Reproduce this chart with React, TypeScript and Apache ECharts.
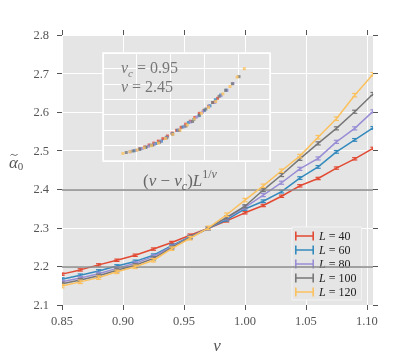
import React, { useEffect, useRef } from "react";
import * as echarts from "echarts";

const vValues = [0.85, 0.865, 0.88, 0.895, 0.91, 0.925, 0.94, 0.955, 0.97, 0.985, 1.0, 1.015, 1.03, 1.045, 1.06, 1.075, 1.09, 1.105];
const sizes = [40, 60, 80, 100, 120];
const alphaL40 = [2.180, 2.191, 2.204, 2.216, 2.229, 2.245, 2.262, 2.281, 2.299, 2.318, 2.339, 2.358, 2.382, 2.409, 2.428, 2.455, 2.479, 2.506];
const alphaL60 = [2.167, 2.177, 2.188, 2.201, 2.213, 2.229, 2.254, 2.277, 2.299, 2.321, 2.349, 2.369, 2.394, 2.429, 2.458, 2.497, 2.528, 2.559];
const alphaL80 = [2.160, 2.170, 2.181, 2.195, 2.208, 2.226, 2.251, 2.276, 2.299, 2.325, 2.353, 2.385, 2.417, 2.453, 2.480, 2.523, 2.558, 2.602];
const alphaL100 = [2.155, 2.165, 2.176, 2.190, 2.203, 2.221, 2.249, 2.275, 2.299, 2.327, 2.356, 2.398, 2.437, 2.479, 2.519, 2.558, 2.601, 2.647];
const alphaL120 = [2.149, 2.160, 2.171, 2.186, 2.199, 2.216, 2.246, 2.273, 2.300, 2.334, 2.372, 2.409, 2.448, 2.486, 2.535, 2.583, 2.644, 2.698];
const errorBars = [0.003, 0.0035, 0.004, 0.004, 0.0045];
const refLines = [2.4, 2.2];
const xTicks = [0.85, 0.9, 0.95, 1.0, 1.05, 1.1];
const vc = 0.95;
const nu = 2.45;

const colors = ["#E24A33", "#348ABD", "#988ED5", "#777777", "#FBC15E"];
const FONT = "'Liberation Serif', 'DejaVu Serif', serif";

export default function App() {
  const ref = useRef<HTMLDivElement>(null);
  useEffect(() => {
    const chart = echarts.init(ref.current!, null, { renderer: "svg" });
    const allAlpha = [alphaL40, alphaL60, alphaL80, alphaL100, alphaL120];
    const names = sizes.map((L) => `L = ${L}`);

    const series: any[] = [];
    series.push({
      type: "line",
      xAxisIndex: 0,
      yAxisIndex: 0,
      data: [],
      z: 1,
      silent: true,
      markLine: {
        symbol: "none",
        silent: true,
        label: { show: false },
        lineStyle: { color: "#888888", width: 1.6, type: "solid" },
        data: refLines.map((y) => ({ yAxis: y })),
      },
    });
    allAlpha.forEach((arr, k) => {
      series.push({
        name: names[k],
        type: "line",
        xAxisIndex: 0,
        yAxisIndex: 0,
        data: vValues.map((v, i) => [v, arr[i]]),
        symbol: "none",
        color: colors[k],
        lineStyle: { width: 1.5, color: colors[k] },
        z: 2 + k,
        clip: true,
      });
      series.push({
        name: names[k],
        type: "custom",
        xAxisIndex: 0,
        yAxisIndex: 0,
        color: colors[k],
        z: 2 + k,
        clip: true,
        data: vValues.map((v, i) => [v, arr[i], errorBars[k]]),
        renderItem: (params: any, api: any) => {
          const x = api.value(0);
          const y = api.value(1);
          const e = api.value(2);
          const t = api.coord([x, y + e]);
          const b = api.coord([x, y - e]);
          const hw = 2.6;
          const st = { stroke: colors[k], lineWidth: 1.2 };
          return {
            type: "group",
            children: [
              { type: "line", shape: { x1: t[0], y1: t[1], x2: b[0], y2: b[1] }, style: st },
              { type: "line", shape: { x1: t[0] - hw, y1: t[1], x2: t[0] + hw, y2: t[1] }, style: st },
              { type: "line", shape: { x1: b[0] - hw, y1: b[1], x2: b[0] + hw, y2: b[1] }, style: st },
            ],
          };
        },
      });
    });
    allAlpha.forEach((arr, k) => {
      const scale = Math.pow(sizes[k], 1 / nu);
      series.push({
        name: "collapse" + sizes[k],
        type: "scatter",
        xAxisIndex: 2,
        yAxisIndex: 2,
        symbol: "rect",
        symbolSize: 3,
        z: 5 + k * 0.1,
        itemStyle: { color: colors[k] },
        data: vValues.map((v, i) => [(v - vc) * scale, arr[i]]),
      });
    });

    const tickStyle = { color: "#555555", width: 1 };
    const labelStyle = { color: "#555555", fontFamily: FONT, fontSize: 12.5 };
    const inset = "#777777";
    const mid = "#666666";

    chart.setOption({
      animation: false,
      grid: [
        { left: 62, top: 35, width: 311, height: 270, show: true, backgroundColor: "#E5E5E5", borderWidth: 0, z: 0 },
        { left: 103, top: 53, width: 167, height: 108, show: true, backgroundColor: "#E5E5E5", borderColor: "#ffffff", borderWidth: 1.5, z: 3 },
      ],
      xAxis: [
        {
          gridIndex: 0, type: "value", position: "bottom", min: 0.85, max: 1.105, interval: 0.05,
          axisLine: { show: false },
          axisTick: { show: true, length: 5, lineStyle: tickStyle, customValues: xTicks },
          axisLabel: { ...labelStyle, margin: 9, customValues: xTicks, formatter: (v: number) => v.toFixed(2) },
          splitLine: { show: true, lineStyle: { color: "#ffffff", width: 1 } },
        },
        {
          gridIndex: 0, type: "value", position: "top", min: 0.85, max: 1.105, interval: 0.05,
          axisLine: { show: false },
          axisTick: { show: true, length: 5, lineStyle: tickStyle, customValues: xTicks },
          axisLabel: { show: false },
          splitLine: { show: false },
        },
        {
          gridIndex: 1, type: "value", min: -1, max: 1.475, interval: 0.5, z: 4,
          axisLine: { show: false }, axisTick: { show: false }, axisLabel: { show: false },
          splitLine: { show: true, lineStyle: { color: "#ffffff", width: 1 } },
        },
      ],
      yAxis: [
        {
          gridIndex: 0, type: "value", position: "left", min: 2.1, max: 2.8, interval: 0.1,
          axisLine: { show: false },
          axisTick: { show: true, length: 5, lineStyle: tickStyle },
          axisLabel: { ...labelStyle, margin: 13, formatter: (v: number) => v.toFixed(1) },
          splitLine: { show: true, lineStyle: { color: "#ffffff", width: 1 } },
        },
        {
          gridIndex: 0, type: "value", position: "right", min: 2.1, max: 2.8, interval: 0.1,
          axisLine: { show: false },
          axisTick: { show: true, length: 5, lineStyle: tickStyle },
          axisLabel: { show: false },
          splitLine: { show: false },
        },
        {
          gridIndex: 1, type: "value", min: 2.1, max: 2.8, interval: 0.1, z: 4,
          axisLine: { show: false }, axisTick: { show: false }, axisLabel: { show: false },
          splitLine: { show: true, lineStyle: { color: "#ffffff", width: 1 } },
        },
      ],
      legend: {
        orient: "vertical",
        left: 292,
        top: 227,
        itemWidth: 19,
        itemHeight: 9,
        itemGap: 2,
        padding: [3, 5, 2, 3],
        backgroundColor: "#E5E5E5",
        borderColor: "#f4f4f4",
        borderWidth: 1,
        icon: "path://M0,0h1.6v9h-1.6zM17.4,0h1.6v9h-1.6zM0,3.7h19v1.6h-19z",
        data: names,
        formatter: (n: string) => `{i|L}{n| = ${n.split("= ")[1]}}`,
        textStyle: {
          fontFamily: FONT,
          fontSize: 12,
          color: "#222222",
          lineHeight: 12,
          rich: {
            i: { fontFamily: FONT, fontSize: 12, fontStyle: "italic", color: "#222222", lineHeight: 12 },
            n: { fontFamily: FONT, fontSize: 12, color: "#222222", lineHeight: 12 },
          },
        },
      },
      graphic: [
        {
          type: "text", x: 13.5, y: 162, z: 10,
          style: { text: "α", fontFamily: FONT, fontSize: 17, fontStyle: "italic", fill: "#555555", align: "center", verticalAlign: "middle" },
        },
        {
          type: "bezierCurve", z: 10,
          shape: { x1: 10.5, y1: 155.5, cpx1: 12.5, cpy1: 152, cpx2: 15, cpy2: 158, x2: 17.5, y2: 154 },
          style: { stroke: "#555555", lineWidth: 0.9, fill: "none" },
        },
        {
          type: "text", x: 20.5, y: 166, z: 10,
          style: { text: "0", fontFamily: FONT, fontSize: 11, fill: "#555555", align: "center", verticalAlign: "middle" },
        },
        {
          type: "text", x: 217, y: 345, z: 10,
          style: { text: "v", fontFamily: FONT, fontSize: 17, fontStyle: "italic", fill: "#555555", align: "center", verticalAlign: "middle" },
        },
        {
          type: "text", left: 121, top: 59, z: 10,
          style: {
            text: "{i|v}{s|c}{n| = 0.95}",
            fill: inset,
            rich: {
              i: { fontFamily: FONT, fontSize: 16, fontStyle: "italic", fill: inset, lineHeight: 22 },
              s: { fontFamily: FONT, fontSize: 11, fontStyle: "italic", fill: inset, lineHeight: 11, verticalAlign: "bottom" },
              n: { fontFamily: FONT, fontSize: 16, fill: inset, lineHeight: 22 },
            },
          },
        },
        {
          type: "text", left: 121, top: 78, z: 10,
          style: {
            text: "{i|ν}{n| = 2.45}",
            fill: inset,
            rich: {
              i: { fontFamily: FONT, fontSize: 16, fontStyle: "italic", fill: inset, lineHeight: 22 },
              n: { fontFamily: FONT, fontSize: 16, fill: inset, lineHeight: 22 },
            },
          },
        },
        {
          type: "text", left: 143, top: 168, z: 10,
          style: {
            text: "{n|(}{i|v}{n| − }{i|v}{s|c}{n|)}{i|L}{p|1/}{pi|ν}",
            fill: mid,
            rich: {
              i: { fontFamily: FONT, fontSize: 17, fontStyle: "italic", fill: mid, lineHeight: 24 },
              n: { fontFamily: FONT, fontSize: 17, fill: mid, lineHeight: 24 },
              s: { fontFamily: FONT, fontSize: 12, fontStyle: "italic", fill: mid, lineHeight: 12, verticalAlign: "bottom" },
              p: { fontFamily: FONT, fontSize: 12, fill: mid, lineHeight: 12, verticalAlign: "top" },
              pi: { fontFamily: FONT, fontSize: 12, fontStyle: "italic", fill: mid, lineHeight: 12, verticalAlign: "top" },
            },
          },
        },
      ],
      series,
    });
    return () => chart.dispose();
  }, []);
  return <div ref={ref} style={{ position: "fixed", left: 0, top: 0, width: 415, height: 359 }} />;
}
